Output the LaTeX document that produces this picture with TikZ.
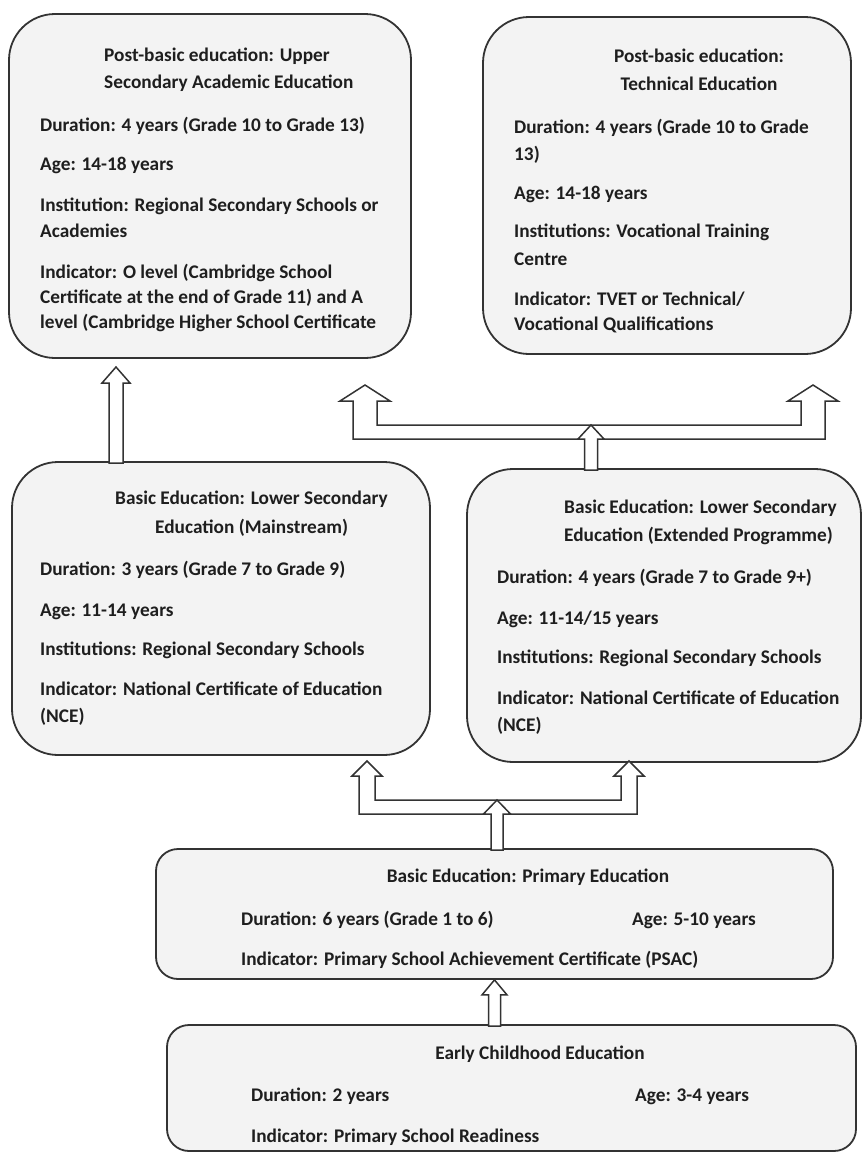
\documentclass[tikz,border=0pt]{standalone}
\usepackage{fontspec}
\setmainfont{Carlito}
\usetikzlibrary{calc}
\definecolor{boxfill}{HTML}{F3F3F3}
\definecolor{edgec}{HTML}{333333}
\definecolor{textc}{HTML}{1E1E1E}
\newcommand\blkup[5]{% #1 base, #2 tip, #3 half shaft, #4 half head, #5 head length
  \draw[blk] let \p1=(#1), \p2=(#2) in
   (\x2-#3,\y1-2pt) -- (\x2-#3,\y2-#5) -- (\x2-#4,\y2-#5) -- (\x2,\y2) --
   (\x2+#4,\y2-#5) -- (\x2+#3,\y2-#5) -- (\x2+#3,\y1-2pt) -- cycle;}
\newcommand\forkup[7]{% #1 left tip, #2 right tip, #3 bar top, #4 bar thickness, #5 half shaft, #6 half head, #7 head length
  \draw[blk] let \p1=(#1), \p2=(#2), \p3=(#3) in
   (\x1-#5,\y3-#4) -- (\x1-#5,\y1-#7) -- (\x1-#6,\y1-#7) -- (\x1,\y1) --
   (\x1+#6,\y1-#7) -- (\x1+#5,\y1-#7) -- (\x1+#5,\y3) -- (\x2-#5,\y3) --
   (\x2-#5,\y2-#7) -- (\x2-#6,\y2-#7) -- (\x2,\y2) -- (\x2+#6,\y2-#7) --
   (\x2+#5,\y2-#7) -- (\x2+#5,\y3-#4) -- cycle;}
\begin{document}
\begin{tikzpicture}[x=1pt,y=-1pt,
  bigbox/.style={draw=edgec, fill=boxfill, line width=1.8pt, rounded corners=46pt, inner sep=0pt},
  flatbox/.style={draw=edgec, fill=boxfill, line width=1.8pt, rounded corners=22pt, inner sep=0pt},
  blk/.style={draw=edgec, fill=white, line width=1.5pt, line join=miter},
  txt/.style={anchor=base west, inner sep=0pt, text=textc, font=\bfseries\fontsize{19.3}{23}\selectfont},
  ctxt/.style={txt, anchor=base}]
\useasboundingbox (0,0) rectangle (863,1154);
% boxes
\node[bigbox, minimum width=402pt, minimum height=344pt] (A) at (210,186) {};
\node[bigbox, minimum width=368pt, minimum height=337pt] (B) at (667,185.5) {};
\node[bigbox, minimum width=418pt, minimum height=293pt] (C) at (221,608.5) {};
\node[bigbox, minimum width=394pt, minimum height=293pt] (D) at (664,615.5) {};
\node[flatbox, minimum width=677pt, minimum height=130pt] (E) at (494.5,914) {};
\node[flatbox, minimum width=689pt, minimum height=126pt] (F) at (511.5,1088) {};
% box A text
\node[txt] (a1) at (104,61) {Post-basic education: Upper};
\node[txt] (a2) at (104,88) {Secondary Academic Education};
\node[txt] (a3) at (40,131) {Duration: 4 years (Grade 10 to Grade 13)};
\node[txt] (a4) at (40,170) {Age: 14-18 years};
\node[txt] (a5) at (40,211) {Institution: Regional Secondary Schools or};
\node[txt] (a6) at (40,237) {Academies};
\node[txt] (a7) at (40,278) {Indicator: O level (Cambridge School};
\node[txt] (a8) at (40,303) {Certificate at the end of Grade 11) and A};
\node[txt] (a9) at (40,328) {level (Cambridge Higher School Certificate};
% box B text
\node[ctxt] (b1) at (699,62) {Post-basic education:};
\node[ctxt] (b2) at (699,90) {Technical Education};
\node[txt] (b3) at (514,133) {Duration: 4 years (Grade 10 to Grade};
\node[txt] (b4) at (514,160) {13)};
\node[txt] (b5) at (514,199) {Age: 14-18 years};
\node[txt] (b6) at (514,237) {Institutions: Vocational Training};
\node[txt] (b7) at (514,265) {Centre};
\node[txt] (b8) at (514,305) {Indicator: TVET or Technical/};
\node[txt] (b9) at (514,330) {Vocational Qualifications};
% box C text
\node[txt] (c1) at (115,504) {Basic Education: Lower Secondary};
\node[txt] (c2) at (155,533) {Education (Mainstream)};
\node[txt] (c3) at (40,575) {Duration: 3 years (Grade 7 to Grade 9)};
\node[txt] (c4) at (40,616) {Age: 11-14 years};
\node[txt] (c5) at (40,655) {Institutions: Regional Secondary Schools};
\node[txt] (c6) at (40,695) {Indicator: National Certificate of Education};
\node[txt] (c7) at (40,722) {(NCE)};
% box D text
\node[txt] (d1) at (564,513) {Basic Education: Lower Secondary};
\node[txt] (d2) at (564,541) {Education (Extended Programme)};
\node[txt] (d3) at (497,583) {Duration: 4 years (Grade 7 to Grade 9+)};
\node[txt] (d4) at (497,624) {Age: 11-14/15 years};
\node[txt] (d5) at (497,663) {Institutions: Regional Secondary Schools};
\node[txt] (d6) at (497,704) {Indicator: National Certificate of Education};
\node[txt] (d7) at (497,731) {(NCE)};
% box E text
\node[ctxt] (e1) at (528,882) {Basic Education: Primary Education};
\node[txt] (e2) at (241,925) {Duration: 6 years (Grade 1 to 6)};
\node[txt] (e3) at (632,925) {Age: 5-10 years};
\node[txt] (e4) at (241,965) {Indicator: Primary School Achievement Certificate (PSAC)};
% box F text
\node[ctxt] (f1) at (540,1059) {Early Childhood Education};
\node[txt] (f2) at (251,1101) {Duration: 2 years};
\node[txt] (f3) at (635,1101) {Age: 3-4 years};
\node[txt] (f4) at (251,1142) {Indicator: Primary School Readiness};
% arrow C -> A
\coordinate (tCA) at (116,367);
\blkup{C.north}{tCA}{7pt}{14pt}{16pt}
% fork D -> A, B
\coordinate (tL) at (365,385);
\coordinate (tR) at (813,385);
\coordinate (tM) at (591,425);
\forkup{tL}{tR}{tM}{14pt}{12pt}{25pt}{16pt}
\blkup{D.north}{tM}{6.5pt}{13pt}{14pt}
% fork E -> C, D
\coordinate (bL) at (367,761);
\coordinate (bR) at (629,761);
\coordinate (bM) at (497,800);
\forkup{bL}{bR}{bM}{14pt}{8pt}{15pt}{15pt}
\blkup{E.north}{bM}{6pt}{13.5pt}{14pt}
% arrow F -> E
\blkup{F.north}{E.south}{6pt}{12.5pt}{15pt}
\end{tikzpicture}
\end{document}
